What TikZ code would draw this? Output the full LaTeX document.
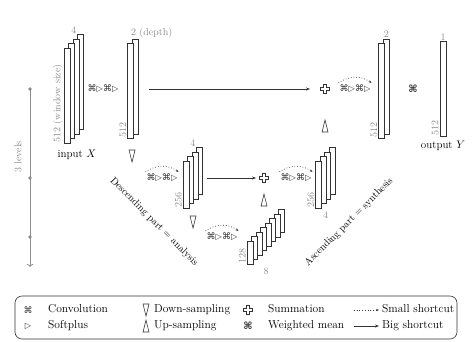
\documentclass[tikz,border=0pt]{standalone}
\usepackage{fontspec}
\usepackage{tikz}
\usetikzlibrary{arrows.meta,positioning,calc}
\newfontfamily\dvsans{DejaVu Sans}
\definecolor{unline}{HTML}{333333}
\definecolor{ungrey}{HTML}{8C8C8C}

% stack of feature maps: name, centre x, centre y, count, height
\newcommand{\fmaps}[5]{%
  \foreach \i in {#4,...,1}
    \node[layer, minimum height=#5] (#1-\i)
      at ({#2+(\i-1-(#4-1)/2)*4.5}, {#3-(\i-1-(#4-1)/2)*4.5}) {};%
}
\newcommand{\downsym}[1]{\draw[samp] ([shift={(-3,-6)}]#1) -- ++(6,0) -- ++(-3,12) -- cycle;}
\newcommand{\upsym}[1]{\draw[samp] ([shift={(-3,6)}]#1) -- ++(6,0) -- ++(-3,-12) -- cycle;}
\newcommand{\sumsym}[1]{\draw[samp, line width=0.5pt] ([shift={(-1.6,-4.6)}]#1) -- ++(3.2,0) -- ++(0,3)
  -- ++(3,0) -- ++(0,3.2) -- ++(-3,0) -- ++(0,3) -- ++(-3.2,0) -- ++(0,-3)
  -- ++(-3,0) -- ++(0,-3.2) -- ++(3,0) -- cycle;}
\newcommand{\convsp}{⌘{\fontsize{8.2}{9}\selectfont▷}⌘{\fontsize{8.2}{9}\selectfont▷}}

\begin{document}
\begin{tikzpicture}[
        x=1pt, y=-1pt,
        font=\fontsize{11}{13}\selectfont,
        layer/.style={draw=unline, fill=white, line width=0.6pt,
                      minimum width=6pt, inner sep=0pt},
        dim/.style={text=ungrey, inner sep=1pt, font=\fontsize{10}{12}\selectfont},
        txt/.style={inner sep=1pt},
        ops/.style={inner sep=1pt, text=unline, font=\dvsans\fontsize{9}{10}\selectfont},
        meanop/.style={inner sep=1pt, text=unline, font=\dvsans\bfseries\fontsize{10}{11}\selectfont},
        big/.style={-{Stealth[length=4pt]}, line width=0.9pt, unline},
        small/.style={-{Stealth[length=3pt]}, dotted, line width=0.7pt, unline},
        samp/.style={draw=unline, line width=0.6pt},
        part/.style={inner sep=0pt, font=\fontsize{10}{12}\selectfont},
        leg/.style={anchor=west, inner sep=0pt, text height=1.6ex, text depth=.3ex,
                    font=\fontsize{11.5}{13}\selectfont},
        levax/.style={ungrey, line width=0.8pt, -{To[length=3pt]}}
    ]
        \useasboundingbox (0,0) rectangle (473,341);

        % level axis
        \coordinate (lv1) at (30,89);
        \coordinate (lv2) at (30,178);
        \coordinate (lv3) at (30,237);
        \coordinate (lv4) at (30,267);
        \draw[levax] (lv1) -- (lv4);
        \foreach \p in {lv1,lv2,lv3} \fill[ungrey] (\p) circle (1.8pt);
        \node[dim, rotate=90] (levels) at (18,157) {3 levels};

        % top level
        \fmaps{in}{74}{89}{4}{95}
        \fmaps{b}{133}{89}{2}{95}
        \fmaps{c}{384}{89}{2}{95}
        \fmaps{d}{443}{89}{1}{95}
        \node[dim, anchor=south east] at (in-4.north west) {4};
        \node[dim, rotate=90, anchor=south west] at (in-1.south west) {512 (window size)};
        \node[txt] (inX) at (77,155) {input $X$};
        \node[dim, anchor=south west, xshift=-2pt] at (b-2.north west) {2 (depth)};
        \node[dim, rotate=90, anchor=south west] at (b-1.south west) {512};
        \node[dim, above] at (c-2.north) {2};
        \node[dim, rotate=90, anchor=south west] at (c-1.south west) {512};
        \node[dim, above] at (d-1.north) {1};
        \node[dim, rotate=90, anchor=south west] at (d-1.south west) {512};
        \node[txt, below=3pt of d-1] (outY) {output $Y$};

        \node[ops] (cv1) at (103,89) {\convsp};
        \coordinate (sumA) at (325,89);
        \sumsym{sumA}
        \node[ops] (cv2) at (355,89) {\convsp};
        \node[meanop] (wmean) at (413,89) {⌘};
        \coordinate (downA) at (132,156);
        \coordinate (upA) at (325,126);
        \downsym{downA}
        \upsym{upA}

        % second level
        \fmaps{e}{193}{178}{4}{47}
        \fmaps{f}{325.5}{178}{4}{47}
        \node[dim, anchor=south east] at (e-4.north west) {4};
        \node[dim, rotate=90, anchor=south west] at (e-1.south west) {256};
        \node[dim, rotate=90, anchor=south west] at (f-1.south west) {256};
        \node[dim, anchor=north] at ($(f-1.south)+(6.75,2)$) {4};
        \node[ops] (cv3) at (162,178) {\convsp};
        \coordinate (sumB) at (264,178);
        \sumsym{sumB}
        \node[ops] (cv4) at (296,178) {\convsp};
        \coordinate (downB) at (193,222);
        \coordinate (upB) at (264,200);
        \downsym{downB}
        \upsym{upB}

        % third level
        \fmaps{g}{266}{237}{8}{23}
        \node[dim, rotate=90, anchor=south west] at (g-1.south west) {128};
        \node[dim, anchor=north] at ($(g-1.south)+(15.75,2)$) {8};
        \node[ops] (cv5) at (222,237) {\convsp};

        \node[part, rotate=-45] (desc) at (154,222) {Descending part = analysis};
        \node[part, rotate=45] (asc) at (349,222) {Ascending part = synthesis};

        % shortcuts
        \draw[big, shorten <=10pt, shorten >=15pt] (b-2.east |- sumA) -- (sumA);
        \draw[big, shorten <=4pt, shorten >=8pt] (e-4.east |- sumB) -- (sumB);
        \foreach \c in {cv2,cv3,cv4,cv5}
            \draw[small] ([yshift=1pt]\c.north west) to[bend left=35] ([yshift=1pt]\c.north east);

        % legend
        \node[draw=unline, line width=0.6pt, rounded corners=7pt,
              minimum width=442pt, minimum height=43pt] (legend) at (236,317.5) {};
        \node[ops] (lconv) at (28,310) {⌘};
        \node[leg] at (48,310) {Convolution};
        \node[ops, font=\dvsans\fontsize{8.2}{9}\selectfont] (lsoft) at (28,326) {▷};
        \node[leg] at (48,326) {Softplus};
        \coordinate (ldown) at (146,310);
        \coordinate (lup) at (146,326);
        \downsym{ldown}
        \upsym{lup}
        \node[leg] at (154,310) {Down-sampling};
        \node[leg] at (154,326) {Up-sampling};
        \coordinate (lsum) at (248,310);
        \sumsym{lsum}
        \node[leg] at (268,310) {Summation};
        \node[meanop] (lmean) at (248,326) {⌘};
        \node[leg] at (268,326) {Weighted mean};
        \coordinate (lsmall) at (354,310);
        \coordinate (lbig) at (354,326);
        \node[leg] (tsmall) at (382,310) {Small shortcut};
        \node[leg] (tbig) at (382,326) {Big shortcut};
        \draw[small] (lsmall) -- ([xshift=-3pt]tsmall.west);
        \draw[big] (lbig) -- ([xshift=-3pt]tbig.west);
    \end{tikzpicture}
\end{document}
